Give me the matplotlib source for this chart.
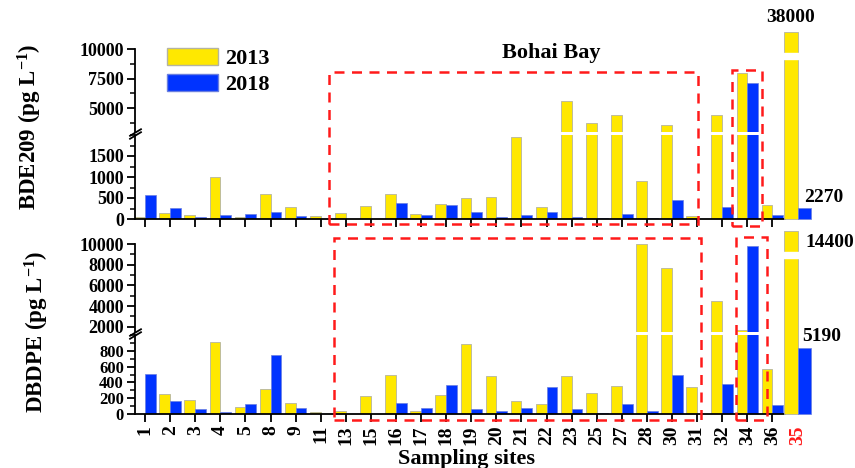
import matplotlib
matplotlib.use('Agg')
import numpy as np
import matplotlib.pyplot as plt
import matplotlib.transforms as mtransforms
from matplotlib.patches import Rectangle, Patch
from matplotlib.ticker import AutoMinorLocator

# sampling sites, the last one (35) is drawn off scale at the right
sites = ['1', '2', '3', '4', '5', '8', '9', '11', '13', '15', '16', '17', '18',
         '19', '20', '21', '22', '23', '25', '27', '28', '30', '31', '32', '34',
         '36', '35']

bde209_2013 = [40, 150, 100, 1000, 40, 600, 290, 70, 150, 320, 590, 110, 360,
               510, 530, 1950, 290, 5600, 3750, 4420, 900, 3570, 80, 4420, 7980,
               330, 38000]
bde209_2018 = [565, 255, 40, 90, 120, 160, 70, 0, 8, 8, 390, 90, 325,
               175, 50, 90, 175, 40, 15, 120, 15, 445, 0, 290, 7120,
               90, 2270]
dbdpe_2013 = [0, 250, 180, 910, 90, 315, 140, 25, 38, 230, 490, 42, 240,
              890, 485, 170, 125, 475, 260, 350, 10000, 7650, 345, 4530, 1700,
              570, 14400]
dbdpe_2018 = [510, 160, 65, 30, 125, 750, 80, 0, 0, 0, 145, 70, 365,
              58, 42, 70, 340, 58, 17, 130, 42, 495, 0, 385, 9850,
              115, 5190]

YELLOW = '#ffe800'
BLUE = '#0033ff'
EDGE = '#b4b4a0'
RED = '#ff1a1a'

plt.rcParams['font.family'] = 'Liberation Serif'
plt.rcParams['font.weight'] = 'bold'
plt.rcParams['mathtext.fontset'] = 'custom'
plt.rcParams['mathtext.rm'] = 'Liberation Serif:bold'
plt.rcParams['mathtext.bf'] = 'Liberation Serif:bold'
plt.rcParams['mathtext.it'] = 'Liberation Serif:bold'

W, H = 855, 468
fig = plt.figure(figsize=(W / 100, H / 100), dpi=100)

XL, XR = 135, 785          # left / right of the main axes (px)
XLIM = (-0.4, 25.5)
BW, BW35 = 0.43, 0.53
TICK_FS = 14


def px_axes(x0, y0, x1, y1):
    return fig.add_axes([x0 / W, 1 - y1 / H, (x1 - x0) / W, (y1 - y0) / H])


def data_to_px(v):
    return XL + (v - XLIM[0]) / (XLIM[1] - XLIM[0]) * (XR - XL)


def style_axis(ax, yticks, fs):
    ax.spines['top'].set_visible(False)
    ax.spines['right'].set_visible(False)
    ax.spines['left'].set_linewidth(1.3)
    ax.spines['bottom'].set_linewidth(1.3)
    ax.set_yticks(yticks)
    ax.yaxis.set_minor_locator(AutoMinorLocator(2))
    ax.tick_params(axis='y', which='major', direction='out', length=6,
                   width=1.3, labelsize=fs, pad=2)
    ax.tick_params(axis='y', which='minor', direction='out', length=3.5,
                   width=1.1)


def draw_panel(top, split, base, top35, up_lim, lo_lim, up_ticks, lo_ticks,
               v13, v18, show_labels, lo_fs):
    x = np.arange(len(sites) - 1)
    ax_up = px_axes(XL, top, XR, split)
    ax_lo = px_axes(XL, split + 3, XR, base)
    for ax in (ax_up, ax_lo):
        ax.bar(x - BW / 2, v13[:-1], BW, color=YELLOW, edgecolor=EDGE, lw=0.6)
        ax.bar(x + BW / 2, v18[:-1], BW, color=BLUE, edgecolor='#6a7fe0', lw=0.5)
        ax.set_xlim(*XLIM)
    ax_up.set_ylim(*up_lim)
    ax_lo.set_ylim(*lo_lim)
    style_axis(ax_up, up_ticks, 13)
    style_axis(ax_lo, lo_ticks, lo_fs)
    ax_up.spines['bottom'].set_visible(False)
    ax_up.set_xticks([])
    ax_lo.set_xticks(x)
    ax_lo.tick_params(axis='x', direction='out', length=6, width=1.3, pad=2)
    if show_labels:
        ax_lo.set_xticklabels(sites[:-1], rotation=90, fontsize=TICK_FS)
    else:
        ax_lo.set_xticklabels([])

    # axis break marks
    kw = dict(marker=[(-1, -0.6), (1, 0.6)], markersize=9, linestyle='none',
              color='k', mec='k', mew=1.3, clip_on=False)
    ax_up.plot([0], [0], transform=ax_up.transAxes, **kw)
    ax_lo.plot([0], [1], transform=ax_lo.transAxes, **kw)

    # site 35, drawn on its own scale
    lim35 = (25.4, 26.7)
    ax35 = px_axes(data_to_px(lim35[0]), top35, data_to_px(lim35[1]), base)
    ax35.patch.set_visible(False)
    for s in ax35.spines.values():
        s.set_visible(False)
    ax35.set_xlim(*lim35)
    ax35.set_ylim(0, v13[-1])
    ax35.set_yticks([])
    ax35.bar(26 - BW35 / 2, v13[-1], BW35, color=YELLOW, edgecolor=EDGE,
             lw=0.6, clip_on=False)
    ax35.bar(26 + BW35 / 2, v18[-1], BW35, color=BLUE, edgecolor='#6a7fe0',
             lw=0.5, clip_on=False)
    ax35.add_patch(Rectangle((26 - BW35 - 0.05, 0.855 * v13[-1]), BW35 + 0.1,
                             0.032 * v13[-1], color='white', zorder=5,
                             clip_on=False))
    ax35.set_xticks([26])
    ax35.tick_params(axis='x', length=0, pad=8)
    if show_labels:
        ax35.set_xticklabels([sites[-1]], rotation=90, fontsize=TICK_FS,
                             color=RED)
    else:
        ax35.set_xticklabels([])
    return ax_up, ax_lo, ax35


# top panel: BDE209
t_up, t_lo, t35 = draw_panel(49, 132, 219, 31.7, (3000, 10000), (0, 2000),
                             [5000, 7500, 10000], [0, 500, 1000, 1500],
                             bde209_2013, bde209_2018, False, 13)
# bottom panel: DBDPE
b_up, b_lo, b35 = draw_panel(244, 332, 414, 231, (1500, 10000), (0, 1000),
                             [2000, 4000, 6000, 8000, 10000],
                             [0, 200, 400, 600, 800],
                             dbdpe_2013, dbdpe_2018, True, 12)

# values of the off-scale site
t35.annotate(f'{bde209_2013[-1]}', xy=(26 - BW35 / 2, bde209_2013[-1]),
             xytext=(0, 4), textcoords='offset points', ha='center',
             va='bottom', fontsize=14)
t35.annotate(f'{bde209_2018[-1]}', xy=(26 + BW35 / 2, bde209_2018[-1]),
             xytext=(0, 1), textcoords='offset points', ha='left',
             va='bottom', fontsize=14, annotation_clip=False)
b35.annotate(f'{dbdpe_2013[-1]}', xy=(26, dbdpe_2013[-1]),
             xytext=(6, -8), textcoords='offset points', ha='left',
             va='center', fontsize=14, annotation_clip=False)
b35.annotate(f'{dbdpe_2018[-1]}', xy=(26, dbdpe_2018[-1]),
             xytext=(3, 8), textcoords='offset points', ha='left',
             va='center', fontsize=14, annotation_clip=False)

# legend
handles = [Patch(facecolor=YELLOW, edgecolor=EDGE),
           Patch(facecolor=BLUE, edgecolor='#6a7fe0')]
t_up.legend(handles, ['2013', '2018'], loc='upper left',
            bbox_to_anchor=(0.049, 1.012), frameon=False, fontsize=16,
            handlelength=2.3, handleheight=0.8, handletextpad=0.3,
            labelspacing=0.2, borderpad=0, borderaxespad=0)

# labels
fig.text(30 / W, 1 - 127 / H, r'BDE209 (pg L$^{\mathbf{-1}}$)', rotation=90,
         ha='center', va='center', fontsize=16.5)
fig.text(37 / W, 1 - 332 / H, r'DBDPE (pg L$^{\mathbf{-1}}$)', rotation=90,
         ha='center', va='center', fontsize=16.5)
fig.text(467 / W, 1 - 459 / H, 'Sampling sites', ha='center', va='center',
         fontsize=16)
fig.text(551 / W, 1 - 53 / H, 'Bohai Bay', ha='center', va='center',
         fontsize=16)

# red dashed boxes: (x from, x to in site index, y top, y bottom in px)
boxes = [(t_lo, 7.33, 22.03, 72, 224), (t_lo, 23.4, 24.6, 70, 226),
         (b_lo, 7.53, 22.15, 238, 420), (b_lo, 23.55, 24.78, 237, 420)]
for ax, x0, x1, y0, y1 in boxes:
    tr = mtransforms.blended_transform_factory(ax.transData, fig.transFigure)
    fig.add_artist(Rectangle((x0, 1 - y1 / H), x1 - x0, (y1 - y0) / H,
                             transform=tr, fill=False, ec=RED, lw=1.8,
                             ls=(0, (4, 3)), zorder=10))

fig.savefig('out.png', dpi=100)
